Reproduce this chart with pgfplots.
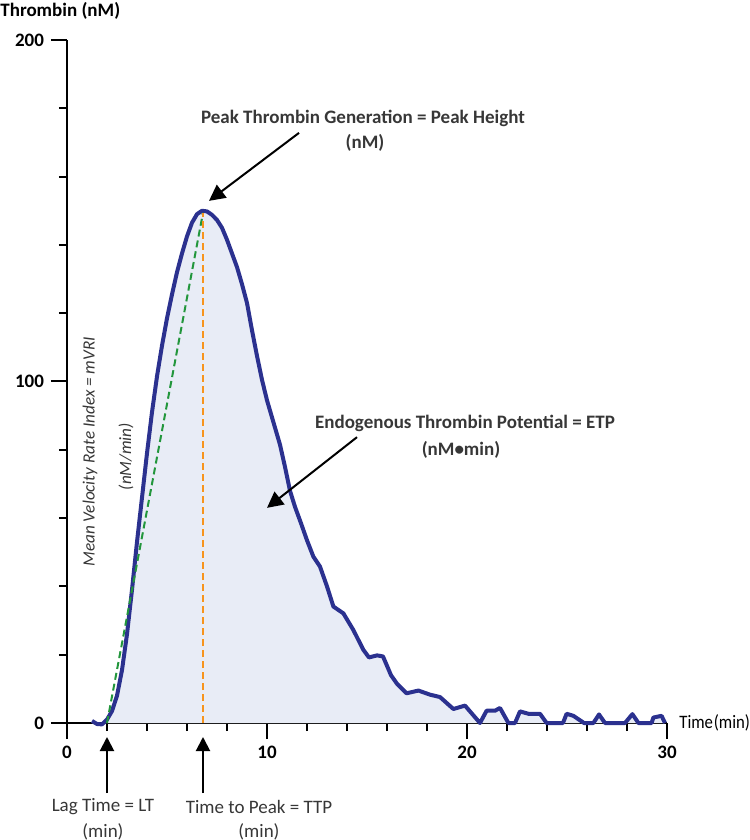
\documentclass[border=0pt]{standalone}
\usepackage{fontspec}
\setmainfont{Carlito}
\usepackage{pgfplots}
\usepackage{pgfplotstable}
\pgfplotsset{compat=1.18}
\usetikzlibrary{arrows.meta}
\definecolor{curvec}{RGB}{43,49,143}
\definecolor{fillc}{RGB}{232,236,246}
\definecolor{grn}{RGB}{34,150,60}
\definecolor{org}{RGB}{247,148,29}
\definecolor{txt}{RGB}{55,55,55}
\newcommand\ann{\fontsize{9.5bp}{11bp}\selectfont}
\pgfplotstableread{
t v
1.25 0.6
1.5 -0.3
1.75 -0.4
2.0 1
2.25 3.5
2.5 8
2.75 15.5
3.0 26
3.25 39
3.5 53
3.75 66
4.0 79
4.25 91
4.5 101.5
4.75 110.5
5.0 118.5
5.25 125.5
5.5 132
5.75 137.5
6.0 142.5
6.25 146.5
6.5 149
6.75 150
7.0 149.8
7.25 148.8
7.5 147.3
7.75 145
8.0 141.5
8.25 137.5
8.5 133.5
8.75 128.5
9.0 123
9.25 115
9.5 107.5
9.75 100.5
10.0 94.5
10.3 88.5
10.65 81.5
10.9 75
11.15 68
11.4 63.3
11.7 58.5
12.0 53.5
12.32 48.7
12.65 45.8
13.0 40
13.32 34.1
13.82 32.1
14.32 27.2
14.82 21.4
15.1 19.2
15.5 19.8
15.8 19.5
16.2 14
16.5 11.5
16.98 8.7
17.57 9.5
18.15 8.3
18.65 7.6
19.32 4.1
19.9 5.1
20.65 0
20.98 3.6
21.4 3.6
21.65 4.4
22.07 0
22.4 0
22.65 3.4
23.07 2.7
23.65 2.7
23.98 0
24.8 0
24.98 2.7
25.32 2.1
25.85 0
26.32 0
26.6 2.5
26.9 0
27.9 0
28.27 2.6
28.57 0
29.23 0
29.32 1.6
29.73 2.1
29.9 0
}\thrombin
\begin{document}
\begin{tikzpicture}
\begin{axis}[
  at={(0,0)}, anchor=south west,
  scale only axis, width=300bp, height=341.5bp,
  xmin=0, xmax=30, ymin=0, ymax=200,
  axis lines*=left, clip=false,
  xtick={0,10,20,30}, minor x tick num=4,
  ytick={0,100,200}, minor y tick num=4,
  tick align=outside, major tick length=8bp, minor tick length=4bp,
  tick style={black, line width=1bp},
  axis line style={black, line width=1bp},
  ticklabel style={font=\fontsize{9.5bp}{11bp}\selectfont\bfseries},
  /pgf/number format/assume math mode=true,
]
\addplot[fill=fillc, draw=none] table[x=t,y=v]{\thrombin} \closedcycle;
\addplot[curvec, line width=2bp, line join=round] table[x=t,y=v]{\thrombin};
\addplot[grn, line width=1bp, dash pattern=on 3.5bp off 2bp] coordinates {(2.0,0) (6.8,149.4)};
\addplot[org, line width=1bp, dash pattern=on 3.5bp off 2bp] coordinates {(6.8,0) (6.8,149.4)};

% arrows
\draw[black, line width=1bp, -{Triangle[length=8bp,width=8bp]}] (axis cs:11.6,172.8) -- (axis cs:7.1,152.9);
\draw[black, line width=1bp, -{Triangle[length=8bp,width=8bp]}] (axis cs:14.5,83.7) -- (axis cs:10.0,63.0);
\draw[black, line width=1bp, -{Triangle[length=7bp,width=7bp]}] (axis cs:2.0,-20.5) -- (axis cs:2.0,-4.1);
\draw[black, line width=1bp, -{Triangle[length=7bp,width=7bp]}] (axis cs:6.8,-20.5) -- (axis cs:6.8,-4.1);

% texts
\node[anchor=west, inner sep=0, font=\ann\bfseries] at (axis cs:-3.35,208.5) {Thrombin (nM)};
\node[anchor=west, inner sep=0, font=\ann] at (axis cs:30.6,0) {\scalebox{0.88}[1]{Time\kern0.5bp(min)}};
\node[inner sep=0, font=\ann\bfseries, text=txt] at (axis cs:14.8,176.9) {Peak Thrombin Generation = Peak Height};
\node[inner sep=0, font=\ann\bfseries, text=txt] at (axis cs:14.9,169.8) {(nM)};
\node[inner sep=0, font=\ann\bfseries, text=txt] at (axis cs:19.9,87.8) {Endogenous Thrombin Potential = ETP};
\node[inner sep=0, font=\ann\bfseries, text=txt] at (axis cs:19.7,79.9) {(nM\textbullet min)};
\node[inner sep=0, font=\ann, text=txt] at (axis cs:1.8,-24.6) {Lag Time = LT};
\node[inner sep=0, font=\ann, text=txt] at (axis cs:1.8,-31.9) {(min)};
\node[inner sep=0, font=\ann, text=txt] at (axis cs:9.6,-24.6) {Time to Peak = TTP};
\node[inner sep=0, font=\ann, text=txt] at (axis cs:9.6,-31.9) {(min)};
\node[inner sep=0, font=\fontsize{8.6bp}{10bp}\selectfont\itshape, text=txt, rotate=90] at (axis cs:1.15,79.4) {Mean Velocity Rate Index = mVRI};
\node[inner sep=0, font=\fontsize{8.6bp}{10bp}\selectfont\itshape, text=txt, rotate=90] at (axis cs:2.95,78) {(nM/min)};
\end{axis}
\pgfresetboundingbox
\path[use as bounding box] (-33.5bp,-58.5bp) rectangle (341.5bp,361.5bp);
\end{tikzpicture}
\end{document}
